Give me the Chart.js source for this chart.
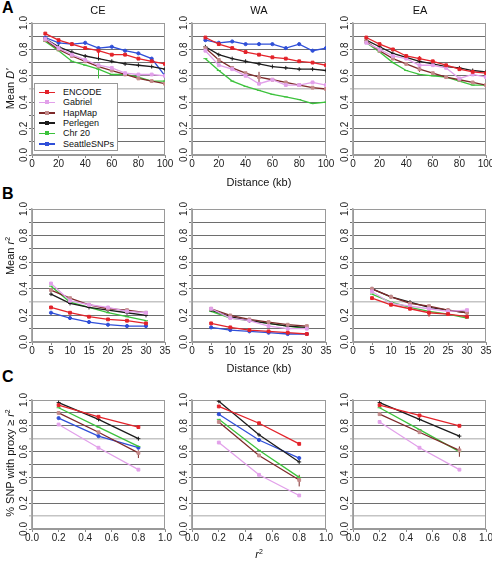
<!DOCTYPE html>
<html>
<head>
<meta charset="utf-8">
<script src="https://cdn.jsdelivr.net/npm/chart.js@4.4.1/dist/chart.umd.min.js"></script>
<style>
  body { margin: 0; background: #fff; font-family: "Liberation Sans", Arial, sans-serif; }
  #wrap { position: relative; width: 492px; height: 562px; overflow: hidden; }
  #wrap canvas { position: absolute; }
  .t { position: absolute; font-size: 11px; color: #111; white-space: nowrap; }
  .c { transform: translate(-50%, -50%); }
  .rot { transform: translate(-50%, -50%) rotate(-90deg); }
  .letter { position: absolute; font-size: 16px; font-weight: bold; color: #000; }
  #legend { position: absolute; left: 34px; top: 83px; width: 82px; height: 66px; background: #fff;
            border: 1px solid #999; font-size: 9px; color: #111; }
  #legend .row { position: absolute; left: 4px; height: 10px; white-space: nowrap; }
  #legend .ln { position: absolute; left: 0; top: 4.5px; width: 16px; height: 1.5px; }
  #legend .mk { position: absolute; left: 6px; top: 3px; width: 4px; height: 4px; }
  #legend .lb { position: absolute; left: 24px; top: 0; line-height: 10px; white-space: nowrap; }
</style>
</head>
<body>
<div id="wrap"></div>
<script>
// series order used by every panel
const SERIES = ['ENCODE', 'Gabriel', 'HapMap', 'Perlegen', 'Chr 20', 'SeattleSNPs'];

// x values
const DIST_A = [10, 20, 30, 40, 50, 60, 70, 80, 90, 100];
const DIST_B = [5, 10, 15, 20, 25, 30];
const R2_C = [0.2, 0.5, 0.8];

// y tick labels (every 0.2, grid every 0.1)
const Y_LABELS = [0, 0.2, 0.4, 0.6, 0.8, 1.0];

// panel A: mean D' vs distance
const A_CE_ENCODE = [0.92, 0.87, 0.84, 0.81, 0.79, 0.76, 0.76, 0.73, 0.71, 0.69];
const A_CE_GABRIEL = [0.88, 0.81, 0.76, 0.72, 0.68, 0.66, 0.62, 0.61, 0.61, 0.60];
const A_CE_HAPMAP = [0.87, 0.80, 0.75, 0.71, 0.67, 0.64, 0.61, 0.58, 0.56, 0.54];
const A_CE_PERLEGEN = [0.88, 0.82, 0.78, 0.75, 0.73, 0.71, 0.69, 0.68, 0.67, 0.65];
const A_CE_CHR20 = [0.86, 0.79, 0.71, 0.68, 0.65, 0.61, 0.61, 0.59, 0.56, 0.56];
const A_CE_SEATTLE = [0.89, 0.85, 0.84, 0.85, 0.81, 0.82, 0.79, 0.77, 0.73, 0.60];

const A_WA_ENCODE = [0.89, 0.84, 0.81, 0.78, 0.76, 0.74, 0.73, 0.71, 0.70, 0.68];
const A_WA_GABRIEL = [0.79, 0.68, 0.65, 0.60, 0.54, 0.57, 0.53, 0.53, 0.55, 0.53];
const A_WA_HAPMAP = [0.81, 0.72, 0.66, 0.62, 0.59, 0.57, 0.55, 0.53, 0.51, 0.50];
const A_WA_PERLEGEN = [0.82, 0.76, 0.73, 0.71, 0.69, 0.67, 0.66, 0.65, 0.65, 0.64];
const A_WA_CHR20 = [0.73, 0.64, 0.56, 0.52, 0.49, 0.46, 0.44, 0.42, 0.39, 0.40];
const A_WA_SEATTLE = [0.87, 0.85, 0.86, 0.84, 0.84, 0.84, 0.81, 0.84, 0.79, 0.81];

const A_EA_ENCODE = [0.89, 0.84, 0.80, 0.75, 0.73, 0.71, 0.68, 0.65, 0.63, 0.62];
const A_EA_GABRIEL = [0.85, 0.80, 0.75, 0.73, 0.68, 0.68, 0.66, 0.58, 0.61, 0.59];
const A_EA_HAPMAP = [0.86, 0.79, 0.73, 0.69, 0.65, 0.62, 0.59, 0.57, 0.55, 0.53];
const A_EA_PERLEGEN = [0.87, 0.82, 0.77, 0.74, 0.71, 0.69, 0.67, 0.66, 0.64, 0.63];
const A_EA_CHR20 = [0.85, 0.78, 0.70, 0.64, 0.61, 0.60, 0.59, 0.56, 0.53, 0.53];

// panel B: mean r2 vs distance
const B_CE_ENCODE = [0.26, 0.22, 0.19, 0.17, 0.16, 0.14];
const B_CE_GABRIEL = [0.44, 0.31, 0.28, 0.26, 0.23, 0.22];
const B_CE_HAPMAP = [0.39, 0.33, 0.28, 0.25, 0.24, 0.22];
const B_CE_PERLEGEN = [0.36, 0.29, 0.26, 0.24, 0.22, 0.20];
const B_CE_CHR20 = [0.42, 0.30, 0.26, 0.22, 0.19, 0.16];
const B_CE_SEATTLE = [0.22, 0.18, 0.15, 0.13, 0.12, 0.12];

const B_WA_ENCODE = [0.14, 0.11, 0.09, 0.08, 0.07, 0.06];
const B_WA_GABRIEL = [0.25, 0.18, 0.16, 0.12, 0.10, 0.10];
const B_WA_HAPMAP = [0.25, 0.20, 0.17, 0.15, 0.13, 0.12];
const B_WA_PERLEGEN = [0.24, 0.19, 0.16, 0.14, 0.12, 0.11];
const B_WA_CHR20 = [0.23, 0.18, 0.16, 0.14, 0.12, 0.10];
const B_WA_SEATTLE = [0.11, 0.09, 0.08, 0.07, 0.06, 0.06];

const B_EA_ENCODE = [0.33, 0.28, 0.25, 0.22, 0.21, 0.19];
const B_EA_GABRIEL = [0.38, 0.29, 0.27, 0.25, 0.23, 0.24];
const B_EA_HAPMAP = [0.40, 0.34, 0.29, 0.27, 0.24, 0.22];
const B_EA_PERLEGEN = [0.40, 0.34, 0.30, 0.26, 0.24, 0.22];
const B_EA_CHR20 = [0.36, 0.30, 0.26, 0.23, 0.21, 0.18];

// panel C: fraction of SNPs with a proxy at r2 threshold
const C_CE_ENCODE = [0.96, 0.87, 0.79];
const C_CE_GABRIEL = [0.81, 0.63, 0.46];
const C_CE_HAPMAP = [0.90, 0.75, 0.59];
const C_CE_PERLEGEN = [0.98, 0.85, 0.70];
const C_CE_CHR20 = [0.94, 0.79, 0.64];
const C_CE_SEATTLE = [0.86, 0.72, 0.63];

const C_WA_ENCODE = [0.95, 0.82, 0.66];
const C_WA_GABRIEL = [0.67, 0.42, 0.26];
const C_WA_HAPMAP = [0.83, 0.57, 0.38];
const C_WA_PERLEGEN = [0.99, 0.73, 0.52];
const C_WA_CHR20 = [0.85, 0.61, 0.40];
const C_WA_SEATTLE = [0.89, 0.69, 0.55];

const C_EA_ENCODE = [0.96, 0.88, 0.80];
const C_EA_GABRIEL = [0.83, 0.63, 0.46];
const C_EA_HAPMAP = [0.89, 0.75, 0.61];
const C_EA_PERLEGEN = [0.98, 0.85, 0.72];
const C_EA_CHR20 = [0.94, 0.77, 0.60];

// error bars: [series index, x, low, high]
const ERR_A_CE = [[0, 50, 0.74, 0.82], [4, 50, 0.58, 0.68]];
const ERR_A_WA = [[2, 50, 0.54, 0.63]];
const ERR_A_EA = [[0, 50, 0.70, 0.75], [2, 50, 0.63, 0.69]];
const ERR_B_EA = [[0, 20, 0.19, 0.24]];
const ERR_C_CE = [[2, 0.8, 0.55, 0.61]];
const ERR_C_WA = [[2, 0.8, 0.33, 0.42]];
const ERR_C_EA = [[2, 0.8, 0.56, 0.64]];

const STYLE = [
  { line: '#e3232a', mark: '#e3232a', ps: 'rect', r: 2 },
  { line: '#e2a0ea', mark: '#e2a0ea', ps: 'rect', r: 2 },
  { line: '#7e2a2a', mark: '#c48a8a', ps: 'rect', r: 2 },
  { line: '#1c1c1c', mark: '#1c1c1c', ps: 'cross', r: 2 },
  { line: '#3cc23c', mark: '#3cc23c', ps: 'line', r: 2 },
  { line: '#2f4fd8', mark: '#2f4fd8', ps: 'circle', r: 1.6 }
];

const FONT = '"Liberation Sans", Arial, sans-serif';
const COLS = [{ l: 32, r: 165 }, { l: 192, r: 326 }, { l: 353, r: 486 }];
const ROWS = [
  { t: 23, b: 155, xs: DIST_A, max: 100, step: 20, fmt: v => String(Math.round(v)), light: [5] },
  { t: 209, b: 342, xs: DIST_B, max: 35, step: 5, fmt: v => String(Math.round(v)), light: [3] },
  { t: 400, b: 529, xs: R2_C, max: 1, step: 0.2, fmt: v => v.toFixed(1), light: [1, 7] }
];

// plot frame + rotated y labels
const frame = {
  id: 'frame',
  beforeDatasetsDraw(chart) {
    const a = chart.chartArea, g = chart.ctx;
    g.save();
    g.strokeStyle = '#9a9a9a';
    g.lineWidth = 1;
    g.strokeRect(a.left + 0.5, a.top + 0.5, a.right - a.left - 1, a.bottom - a.top - 1);
    g.restore();
  },
  afterDraw(chart) {
    const g = chart.ctx, ys = chart.scales.y, a = chart.chartArea;
    g.save();
    g.font = '10px ' + FONT;
    g.fillStyle = '#222';
    g.textAlign = 'center';
    g.textBaseline = 'middle';
    Y_LABELS.forEach(v => {
      g.save();
      g.translate(a.left - 7.5, ys.getPixelForValue(v));
      g.rotate(-Math.PI / 2);
      g.fillText(v.toFixed(1), 0, 0);
      g.restore();
    });
    g.restore();
  }
};

const wrap = document.getElementById('wrap');

function makePanel(row, col, series, errs) {
  const R = ROWS[row], C = COLS[col];
  const padL = 18, padT = 8, padR = 10, padB = 18;
  const cv = document.createElement('canvas');
  cv.width = C.r - C.l + padL + padR;
  cv.height = R.b - R.t + padT + padB;
  cv.style.left = (C.l - padL) + 'px';
  cv.style.top = (R.t - padT) + 'px';
  wrap.appendChild(cv);

  const datasets = [];
  series.forEach((ys, i) => {
    if (!ys) return;
    const s = STYLE[i];
    datasets.push({
      label: SERIES[i],
      data: R.xs.map((x, j) => ({ x: x, y: ys[j] })),
      borderColor: s.line, backgroundColor: s.mark, pointBorderColor: s.mark,
      borderWidth: 1.3, pointRadius: s.r, pointStyle: s.ps, pointBorderWidth: 1, tension: 0
    });
  });
  (errs || []).forEach(e => {
    datasets.push({
      data: [{ x: e[1], y: e[2] }, { x: e[1], y: e[3] }],
      borderColor: STYLE[e[0]].line, borderWidth: 1, pointRadius: 0
    });
  });

  new Chart(cv, {
    type: 'line',
    data: { datasets: datasets },
    options: {
      responsive: false, animation: false,
      layout: { padding: { top: padT, right: padR, left: 0, bottom: 0 } },
      plugins: { legend: { display: false }, tooltip: { enabled: false } },
      scales: {
        x: {
          type: 'linear', min: 0, max: R.max,
          afterFit: s => { s.height = padB; },
          ticks: { stepSize: R.step, autoSkip: false, maxRotation: 0, padding: 0,
                   font: { family: FONT, size: 10 }, color: '#222', callback: R.fmt },
          grid: { drawOnChartArea: false, tickLength: 3, color: '#888' },
          border: { color: '#999' }
        },
        y: {
          min: 0, max: 1,
          afterFit: s => { s.width = padL; },
          ticks: { stepSize: 0.1, autoSkip: false, display: false },
          grid: {
            tickLength: 3,
            color: c => (R.light.indexOf(Math.round(c.tick.value * 10)) >= 0 ? '#c4c4c4' : '#6e6e6e'),
            lineWidth: c => (R.light.indexOf(Math.round(c.tick.value * 10)) >= 0 ? 1.6 : 1)
          },
          border: { color: '#aaa', width: 1.5 }
        }
      }
    },
    plugins: [frame]
  });
}

makePanel(0, 0, [A_CE_ENCODE, A_CE_GABRIEL, A_CE_HAPMAP, A_CE_PERLEGEN, A_CE_CHR20, A_CE_SEATTLE], ERR_A_CE);
makePanel(0, 1, [A_WA_ENCODE, A_WA_GABRIEL, A_WA_HAPMAP, A_WA_PERLEGEN, A_WA_CHR20, A_WA_SEATTLE], ERR_A_WA);
makePanel(0, 2, [A_EA_ENCODE, A_EA_GABRIEL, A_EA_HAPMAP, A_EA_PERLEGEN, A_EA_CHR20, null], ERR_A_EA);
makePanel(1, 0, [B_CE_ENCODE, B_CE_GABRIEL, B_CE_HAPMAP, B_CE_PERLEGEN, B_CE_CHR20, B_CE_SEATTLE], null);
makePanel(1, 1, [B_WA_ENCODE, B_WA_GABRIEL, B_WA_HAPMAP, B_WA_PERLEGEN, B_WA_CHR20, B_WA_SEATTLE], null);
makePanel(1, 2, [B_EA_ENCODE, B_EA_GABRIEL, B_EA_HAPMAP, B_EA_PERLEGEN, B_EA_CHR20, null], ERR_B_EA);
makePanel(2, 0, [C_CE_ENCODE, C_CE_GABRIEL, C_CE_HAPMAP, C_CE_PERLEGEN, C_CE_CHR20, C_CE_SEATTLE], ERR_C_CE);
makePanel(2, 1, [C_WA_ENCODE, C_WA_GABRIEL, C_WA_HAPMAP, C_WA_PERLEGEN, C_WA_CHR20, C_WA_SEATTLE], ERR_C_WA);
makePanel(2, 2, [C_EA_ENCODE, C_EA_GABRIEL, C_EA_HAPMAP, C_EA_PERLEGEN, C_EA_CHR20, null], ERR_C_EA);

// text labels
function addText(html, cls, x, y) {
  const d = document.createElement('div');
  d.className = cls;
  d.style.left = x + 'px';
  d.style.top = y + 'px';
  d.innerHTML = html;
  wrap.appendChild(d);
}
addText('A', 'letter', 2, -1);
addText('B', 'letter', 2, 185);
addText('C', 'letter', 2, 368);
addText('CE', 't c', 98, 10);
addText('WA', 't c', 259, 10);
addText('EA', 't c', 420, 10);
addText('Distance (kb)', 't c', 259, 182);
addText('Distance (kb)', 't c', 259, 368);
addText('<i>r</i><sup style="font-size:7px">2</sup>', 't c', 259, 554);
addText('Mean <i>D\'</i>', 't rot', 10, 89);
addText('Mean <i>r</i><sup style="font-size:7px">2</sup>', 't rot', 10, 256);
addText('% SNP with proxy \u2265 <i>r</i><sup style="font-size:7px">2</sup>', 't rot', 10, 463);

// legend
const legend = document.createElement('div');
legend.id = 'legend';
SERIES.forEach((name, i) => {
  const s = STYLE[i];
  const row = document.createElement('div');
  row.className = 'row';
  row.style.top = (3 + i * 10.3) + 'px';
  row.innerHTML = '<div class="ln" style="background:' + s.line + '"></div>' +
    '<div class="mk" style="background:' + s.mark + '"></div>' +
    '<div class="lb">' + name + '</div>';
  legend.appendChild(row);
});
wrap.appendChild(legend);
</script>
</body>
</html>
